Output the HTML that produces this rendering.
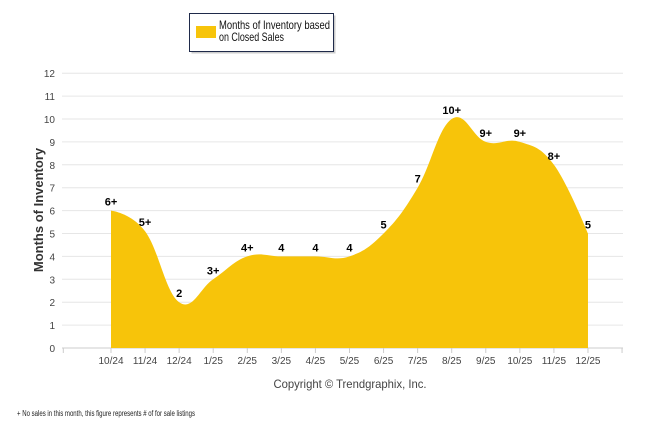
<!DOCTYPE html>
<html><head><meta charset="utf-8"><style>
body{margin:0;background:#fff;font-family:"Liberation Sans",sans-serif}
svg{display:block}
</style></head><body>
<svg id="c" width="646" height="434" xmlns="http://www.w3.org/2000/svg">
<g>
<rect x="191.5" y="15.5" width="144" height="38" fill="#ccc"/>
<rect x="189.5" y="13.5" width="144" height="38" fill="#fff" stroke="#1f2a4a" stroke-width="1"/>
<rect x="196" y="26" width="20" height="12" fill="#f7c40a"/>
<text x="219" y="29" font-size="12" fill="#111" textLength="111" lengthAdjust="spacingAndGlyphs">Months of Inventory based</text>
<text x="219" y="41" font-size="12" fill="#111" textLength="65" lengthAdjust="spacingAndGlyphs">on Closed Sales</text>
</g>
<g id="grid"></g>
<path id="area" fill="#f7c40a"/>
<g id="labels"></g>
<text transform="translate(43,210) rotate(-90)" text-anchor="middle" font-size="13" font-weight="bold" fill="#333">Months of Inventory</text>
<text x="350" y="388" text-anchor="middle" font-size="12" fill="#444" textLength="153" lengthAdjust="spacingAndGlyphs">Copyright © Trendgraphix, Inc.</text>
<text x="17" y="416" font-size="8" fill="#222" textLength="178" lengthAdjust="spacingAndGlyphs">+ No sales in this month, this figure represents # of for sale listings</text>
</svg>
<script>
const categories=["10/24","11/24","12/24","1/25","2/25","3/25","4/25","5/25","6/25","7/25","8/25","9/25","10/25","11/25","12/25"];
const values=[6,5.1,2,3,4,4,4,4,5,7,10,9,9,8,5];
const pointLabels=["6+","5+","2","3+","4+","4","4","4","5","7","10+","9+","9+","8+","5"];
const yTicks=[0,1,2,3,4,5,6,7,8,9,10,11,12];
const NS="http://www.w3.org/2000/svg";
const x0=111,dx=34.07,y0=348,dy=22.9;
const X=i=>x0+i*dx, Y=v=>y0-v*dy;
const g=document.getElementById('grid');
function mk(t,a,p){const e=document.createElementNS(NS,t);for(const k in a)e.setAttribute(k,a[k]);p.appendChild(e);return e;}
yTicks.forEach(v=>{
 const l=mk('line',{x1:62,x2:623,y1:Y(v),y2:Y(v),stroke:v===0?'#ccc':'#e6e6e6','stroke-width':1},g);
 
 
 const t=mk('text',{x:55,y:Y(v)+4,'text-anchor':'end','font-size':10,fill:'#444'},g);
 t.textContent=v;
 
 
});
[X(-1.4),X(categories.length-1+1),...categories.map((c,i)=>X(i))].forEach((xx,k)=>{
 const l=mk('line',{x1:xx,x2:xx,y1:y0,y2:y0+5,stroke:'#ccc'},g);
 
 
});
categories.forEach((c,i)=>{
 const t=mk('text',{x:X(i),y:364,'text-anchor':'middle','font-size':10,fill:'#444'},g);
 t.textContent=c;
 
 
});
const pts=values.map((v,i)=>[X(i),Y(v)]);
let d=`M${pts[0][0]},${y0}L${pts[0][0]},${pts[0][1]}`;
const s=1.5;
function ctrl(i){
 const p=pts[i],a=pts[i-1],b=pts[i+1];
 if(!a||!b)return [p,p];
 let lx=(s*p[0]+a[0])/(s+1),ly=(s*p[1]+a[1])/(s+1),rx=(s*p[0]+b[0])/(s+1),ry=(s*p[1]+b[1])/(s+1);
 const cor=((ry-ly)*(rx-p[0]))/(rx-lx)+p[1]-ry;ly+=cor;ry+=cor;
 return [[lx,ly],[rx,ry]];
}
for(let i=1;i<pts.length;i++){
 const c1=ctrl(i-1)[1],c2=ctrl(i)[0];
 d+=`C${c1[0]},${c1[1]} ${c2[0]},${c2[1]} ${pts[i][0]},${pts[i][1]}`;
}
d+=`L${pts[pts.length-1][0]},${y0}Z`;
document.getElementById('area').setAttribute('d',d);
const lg=document.getElementById('labels');
pointLabels.forEach((lab,i)=>{
 const t=mk('text',{x:X(i),y:Y(values[i])-5,'text-anchor':'middle','font-size':11,'font-weight':'bold',fill:'#000'},lg);
 t.textContent=lab;
 
 
});
</script>
</body></html>
